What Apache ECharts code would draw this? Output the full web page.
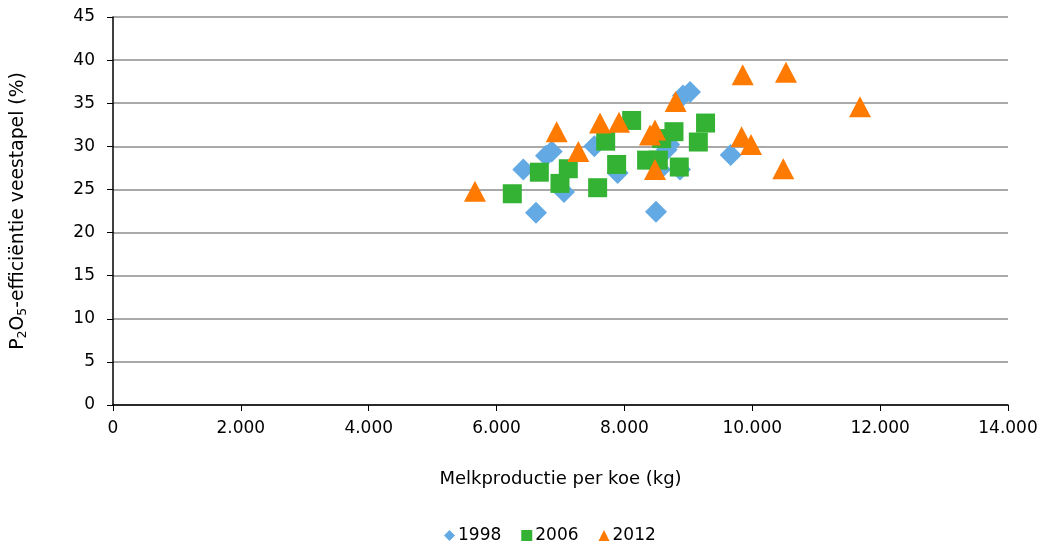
<!DOCTYPE html>
<html><head><meta charset="utf-8">
<script src="https://cdn.jsdelivr.net/npm/echarts@6/dist/echarts.min.js"></script>
<style>html,body{margin:0;padding:0;background:#fff}#c{width:1043px;height:548px}</style>
</head><body><div id="c"></div>
<script>
const seriesNames = ['1998', '2006', '2012'];
const data1998 = [[6418,27.3],[6617,22.3],[6773,28.9],[6862,29.4],[7055,24.7],[7529,30.0],[7894,26.9],[8661,29.6],[8556,27.3],[8869,27.3],[8494,22.4],[9026,36.3],[8916,35.9],[9662,29.0],[8700,30.2]];
const data2006 = [[6246,24.5],[6669,27.0],[7122,27.4],[6992,25.7],[7707,30.6],[7581,25.2],[7878,27.9],[8113,33.0],[8347,28.4],[8530,28.4],[8582,30.9],[8775,31.7],[8858,27.6],[9156,30.5],[9269,32.7]];
const data2012 = [[5662,24.8],[6940,31.7],[7279,29.4],[7618,32.7],[7915,32.8],[8400,31.3],[8478,31.9],[8478,27.3],[8801,35.2],[9850,38.3],[10527,38.6],[11685,34.6],[9833,31.1],[9980,30.2],[10485,27.4]];
const xTicks = [0,2000,4000,6000,8000,10000,12000,14000];
const yTicks = [0,5,10,15,20,25,30,35,40,45];

const font = 'Verdana, "DejaVu Sans", sans-serif';
const chart = echarts.init(document.getElementById('c'), null, {renderer:'canvas'});
const fmt = v => String(v).replace(/\B(?=(\d{3})+(?!\d))/g, '.');
chart.setOption({
  animation:false,
  textStyle:{fontFamily:font},
  grid:{left:113,right:35,top:17,bottom:143,containLabel:false},
  xAxis:{type:'value',min:xTicks[0],max:xTicks[xTicks.length-1],interval:2000,
    name:'Melkproductie per koe (kg)',nameLocation:'middle',nameGap:65,
    nameTextStyle:{fontSize:18,color:'#000',fontFamily:font},
    axisLine:{show:true,lineStyle:{color:'#000',width:1.5}},
    axisTick:{show:true,inside:false,length:6,lineStyle:{color:'#000'}},
    axisLabel:{fontSize:17,color:'#000',margin:15,formatter:fmt,fontFamily:font},
    splitLine:{show:false}},
  yAxis:{type:'value',min:yTicks[0],max:yTicks[yTicks.length-1],interval:5,
    name:'{n|P}{s|2}{n|O}{s|5}{n|-efficiëntie veestapel (%)}',nameLocation:'middle',nameGap:84,nameRotate:90,
    nameTextStyle:{fontSize:18.8,color:'#000',fontFamily:font,rich:{
      n:{fontSize:18.8,color:'#000',fontFamily:font,lineHeight:22,verticalAlign:'middle'},
      s:{fontSize:12.5,color:'#000',fontFamily:font,lineHeight:22,verticalAlign:'bottom',padding:[7,0,0,0]}}},
    axisLine:{show:true,lineStyle:{color:'#000',width:1.5}},
    axisTick:{show:true,inside:false,length:6,lineStyle:{color:'#000'}},
    axisLabel:{fontSize:17,color:'#000',margin:18,fontFamily:font},
    splitLine:{show:true,lineStyle:{color:'#8c8c8c',width:1.5}}},
  legend:{bottom:-1,left:439,itemWidth:11,itemHeight:11,itemGap:20,
    textStyle:{fontSize:17,color:'#000',fontFamily:font,padding:[0,0,0,-2]},
    data:[{name:seriesNames[0],icon:'diamond'},{name:seriesNames[1],icon:'rect'},{name:seriesNames[2],icon:'triangle'}]},
  series:[
    {name:seriesNames[0],type:'scatter',symbol:'diamond',symbolSize:[22,22],data:data1998,itemStyle:{color:'#63a9e4',opacity:1}},
    {name:seriesNames[1],type:'scatter',symbol:'rect',symbolSize:[19,19],data:data2006,itemStyle:{color:'#33b233',opacity:1}},
    {name:seriesNames[2],type:'scatter',symbol:'triangle',symbolSize:[22,21],data:data2012,itemStyle:{color:'#ff7a00',opacity:1}}
  ]
});
</script></body></html>
